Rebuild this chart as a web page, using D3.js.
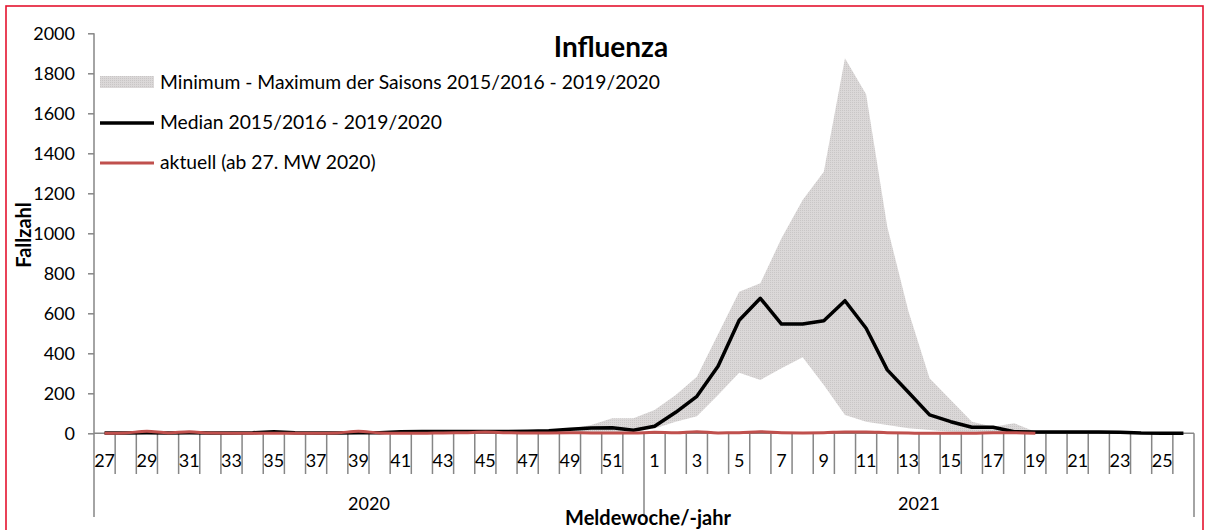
<!DOCTYPE html>
<html>
<head>
<meta charset="utf-8">
<script src="https://cdn.jsdelivr.net/npm/d3@7"></script>
<style>
  body { margin: 0; background: #fff; }
  text { font-family: Lato, "Open Sans", sans-serif; }
</style>
</head>
<body>
<div id="chart"></div>
<script>
var w = 1210,
	h = 530;

// Kalenderwochen 27/2020 - 26/2021
var weeks2020 = d3.range(27, 53);
var weeks2021 = d3.range(1, 27);
var years = ['2020', '2021'];

// Median 2015/2016 - 2019/2020
var median = [2, 2, 3, 2, 3, 2, 2, 3, 8, 3, 2, 2, 3, 3, 8, 9, 9, 9, 9, 9, 10, 13, 20, 27, 28, 15,
	35, 105, 185, 335, 565, 675, 546, 546, 563, 663, 525, 317, 205, 92, 58, 30, 30, 8, 6, 6, 6, 6, 5, 1, 0, 0];
// Minimum der Saisons
var minimum = [0, 0, 0, 0, 0, 0, 0, 0, 0, 0, 0, 0, 0, 0, 0, 0, 0, 0, 0, 0, 0, 0, 2, 3, 5, 8,
	24, 58, 85, 192, 303, 267, 325, 380, 242, 92, 58, 42, 25, 17, 8, 5, 3, 2, 1, 0, 0, 0, 0, 0, 0, 0];
// Maximum der Saisons
var maximum = [5, 5, 6, 5, 6, 4, 4, 5, 10, 5, 4, 4, 6, 6, 10, 11, 12, 12, 13, 13, 14, 18, 22, 42, 75, 75,
	117, 192, 283, 495, 708, 750, 975, 1167, 1308, 1875, 1695, 1033, 610, 275, 167, 58, 33, 50, 8, 8, 8, 8, 8, 3, 2, 2];
// aktuell (ab 27. MW 2020)
var aktuell = [0, 2, 10, 2, 8, 1, 0, 0, 0, 0, 0, 2, 10, 2, 0, 0, 2, 3, 6, 3, 1, 2, 3, 2, 2, 1,
	5, 3, 8, 2, 3, 8, 3, 2, 3, 7, 7, 3, 1, 0, 0, 0, 3, 3, 0, null, null, null, null, null, null, null];

var yTicks = [0, 200, 400, 600, 800, 1000, 1200, 1400, 1600, 1800, 2000];

var LegendOptions = ['Minimum - Maximum der Saisons 2015/2016 - 2019/2020',
	'Median 2015/2016 - 2019/2020',
	'aktuell (ab 27. MW 2020)'];

var cats = weeks2020.map(function(d){ return '2020-' + d; })
	.concat(weeks2021.map(function(d){ return '2021-' + d; }));
var rows = cats.map(function(c, i){
	return {cat: c, week: +c.split('-')[1], year: c.split('-')[0],
		min: minimum[i], max: maximum[i], med: median[i], cur: aktuell[i]};
});

var plotL = 94, plotR = 1194, plotT = 33.3, plotB = 433.3;

var x = d3.scaleBand().domain(cats).range([plotL, plotR]);
var y = d3.scaleLinear().domain([0, 2000]).range([plotB, plotT]);
var xc = function(d){ return x(d.cat) + x.bandwidth() / 2; };

var svg = d3.select('#chart').append('svg')
	.attr('width', w)
	.attr('height', h);

// Punktraster fuer das Band
var pat = svg.append('defs').append('pattern')
	.attr('id', 'dots')
	.attr('width', 2).attr('height', 2)
	.attr('patternUnits', 'userSpaceOnUse');
pat.append('rect').attr('width', 2).attr('height', 2).attr('fill', '#dbd8d8');
pat.append('rect').attr('width', 1).attr('height', 1).attr('fill', '#c9c6c6');

// roter Rahmen
svg.append('rect')
	.attr('x', 6).attr('y', 6)
	.attr('width', 1197).attr('height', 540)
	.attr('fill', 'none')
	.attr('stroke', '#e4132f')
	.attr('stroke-width', 1.6);

// Min-Max-Band
svg.append('path')
	.datum(rows)
	.attr('fill', 'url(#dots)')
	.attr('d', d3.area()
		.x(xc)
		.y0(function(d){ return y(d.min); })
		.y1(function(d){ return y(d.max); }));

// y-Achse
var yAxis = svg.append('g')
	.attr('transform', 'translate(' + plotL + ',0)')
	.call(d3.axisLeft(y).tickValues(yTicks).tickSize(6).tickPadding(13).tickFormat(d3.format('d')));
yAxis.selectAll('path, line').attr('stroke', '#868686').attr('stroke-width', 1.5);
yAxis.select('.domain').attr('d', 'M0,' + plotT + 'V' + plotB);
yAxis.selectAll('text').attr('font-size', '18px').attr('fill', '#000')
	.style('font-family', 'Lato');

// x-Achse: Kategoriegrenzen
var xg = svg.append('g');
xg.append('line')
	.attr('x1', plotL).attr('x2', plotR)
	.attr('y1', plotB).attr('y2', plotB)
	.attr('stroke', '#868686').attr('stroke-width', 1.5);
xg.selectAll('line.tick')
	.data(rows.slice(1))
	.enter().append('line')
	.attr('class', 'tick')
	.attr('x1', function(d){ return x(d.cat); })
	.attr('x2', function(d){ return x(d.cat); })
	.attr('y1', plotB)
	.attr('y2', function(d){ return d.week === 1 ? 517 : 474; })
	.attr('stroke', '#868686').attr('stroke-width', 1.5);
// Rand links und rechts
[plotL, plotR].forEach(function(px){
	xg.append('line')
		.attr('x1', px).attr('x2', px)
		.attr('y1', plotB).attr('y2', 517)
		.attr('stroke', '#868686').attr('stroke-width', 1.5);
});
xg.selectAll('text.week')
	.data(rows.filter(function(d){ return d.week % 2 === 1; }))
	.enter().append('text')
	.attr('class', 'week')
	.attr('x', xc)
	.attr('y', 467)
	.attr('text-anchor', 'middle')
	.attr('font-size', '18px')
	.text(function(d){ return d.week; });
xg.selectAll('text.year')
	.data(years)
	.enter().append('text')
	.attr('class', 'year')
	.attr('x', function(yr){
		var r = rows.filter(function(d){ return d.year === yr; });
		return (x(r[0].cat) + x(r[r.length - 1].cat) + x.bandwidth()) / 2;
	})
	.attr('y', 510)
	.attr('text-anchor', 'middle')
	.attr('font-size', '18px')
	.text(function(d){ return d; });

// Median
svg.append('path')
	.datum(rows)
	.attr('fill', 'none')
	.attr('stroke', '#000')
	.attr('stroke-width', 3.5)
	.attr('stroke-linejoin', 'round')
	.attr('d', d3.line().x(xc).y(function(d){ return y(d.med); }));

// aktuell
svg.append('path')
	.datum(rows.filter(function(d){ return d.cur !== null; }))
	.attr('fill', 'none')
	.attr('stroke', '#c0504d')
	.attr('stroke-width', 3)
	.attr('stroke-linejoin', 'round')
	.attr('d', d3.line().curve(d3.curveMonotoneX).x(xc).y(function(d){ return y(d.cur); }));

// Titel und Achsentitel
svg.append('text')
	.attr('x', 611).attr('y', 57)
	.attr('text-anchor', 'middle')
	.attr('font-size', '28px')
	.attr('font-weight', 'bold')
	.text('Influenza');
svg.append('text')
	.attr('transform', 'translate(31,235) rotate(-90)')
	.attr('text-anchor', 'middle')
	.attr('font-size', '20px')
	.attr('font-weight', 'bold')
	.text('Fallzahl');
svg.append('text')
	.attr('x', 648).attr('y', 525)
	.attr('text-anchor', 'middle')
	.attr('font-size', '20px')
	.attr('font-weight', 'bold')
	.text('Meldewoche/-jahr');

// Legende
var legend = svg.append('g').attr('class', 'legend');
legend.append('rect')
	.attr('x', 100).attr('y', 76)
	.attr('width', 54).attr('height', 12)
	.attr('fill', 'url(#dots)');
legend.append('line')
	.attr('x1', 100).attr('x2', 154).attr('y1', 123).attr('y2', 123)
	.attr('stroke', '#000').attr('stroke-width', 3.5);
legend.append('line')
	.attr('x1', 100).attr('x2', 154).attr('y1', 163).attr('y2', 163)
	.attr('stroke', '#c0504d').attr('stroke-width', 3);
legend.selectAll('text')
	.data(LegendOptions)
	.enter().append('text')
	.attr('x', 160)
	.attr('y', function(d, i){ return 89 + i * 40; })
	.attr('font-size', '19.3px')
	.text(function(d){ return d; });
</script>
</body>
</html>
